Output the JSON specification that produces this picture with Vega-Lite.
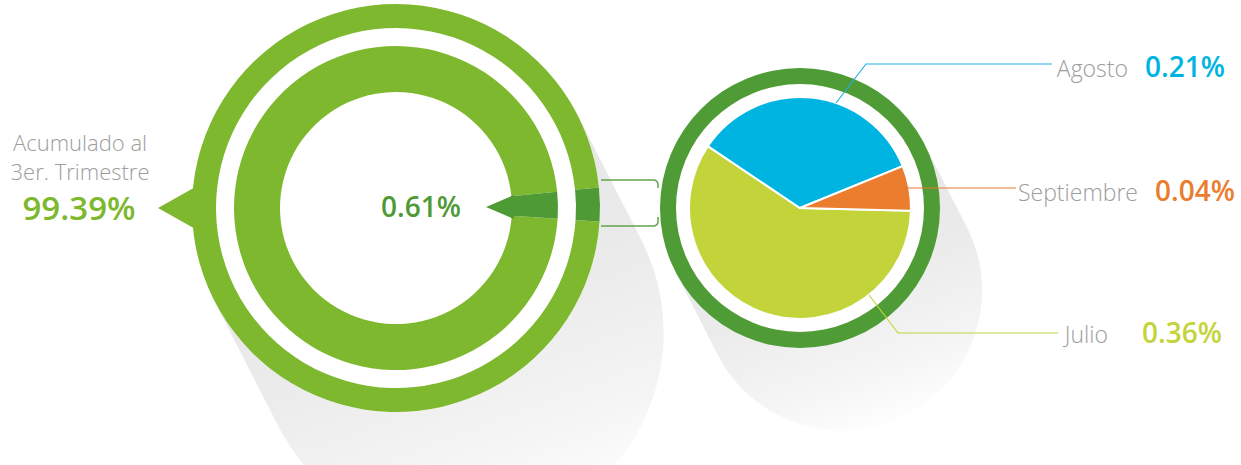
{
  "$schema": "https://vega.github.io/schema/vega-lite/v6.json",
  "width": 1241,
  "height": 465,
  "autosize": {"type": "fit", "contains": "padding"},
  "padding": 0,
  "background": "#ffffff",
  "config": {
    "view": {"stroke": null},
    "axis": {"disable": true},
    "legend": {"disable": true},
    "text": {"font": "Open Sans"}
  },
  "datasets": {
    "graficos": [
      {"grafico": "acumulado", "titulo": "Acumulado al\n3er. Trimestre"},
      {"grafico": "trimestre", "titulo": "3er. Trimestre"}
    ],
    "acumulado": [
      {"grafico": "acumulado", "parte": "Acumulado al 3er. Trimestre", "valor": 99.39, "etiqueta": "99.39%"},
      {"grafico": "acumulado", "parte": "3er. Trimestre", "valor": 0.61, "etiqueta": "0.61%"}
    ],
    "meses": [
      {"grafico": "trimestre", "mes": "Julio", "valor": 0.36, "etiqueta": "0.36%"},
      {"grafico": "trimestre", "mes": "Agosto", "valor": 0.21, "etiqueta": "0.21%"},
      {"grafico": "trimestre", "mes": "Septiembre", "valor": 0.04, "etiqueta": "0.04%"}
    ]
  },
  "resolve": {"scale": {"x": "independent", "y": "independent", "color": "independent", "theta": "independent", "shape": "independent", "size": "independent"}},
  "layer": [
    {
      "data": {"name": "graficos"},
      "mark": {"type": "point", "filled": true, "size": 4, "opacity": 1, "strokeWidth": 0,
        "fill": {"gradient": "linear", "x1": 0.3, "y1": 0, "x2": 0.7, "y2": 1,
          "stops": [{"offset": 0, "color": "#e4e4e4"}, {"offset": 0.5, "color": "#ebebeb"}, {"offset": 0.8, "color": "#f5f5f5"}, {"offset": 1, "color": "#ffffff"}]}},
      "encoding": {
        "x": {"field": "grafico", "type": "nominal", "scale": {"type": "point", "domain": ["acumulado", "trimestre"], "range": [396, 800], "padding": 0}},
        "y": {"field": "grafico", "type": "nominal", "scale": {"type": "point", "domain": ["acumulado", "trimestre"], "range": [208, 208], "padding": 0}},
        "shape": {"field": "grafico", "type": "nominal", "scale": {"domain": ["acumulado", "trimestre"], "range": [
          "M181.8,-92.6 L245.4,32.1 A204,204 0 0 1 -118.2,217.3 L-181.8,92.6 A204,204 0 0 0 181.8,-92.6 Z",
          "M124.7,-63.6 L167.8,21 A140,140 0 0 1 -81.6,148.2 L-124.7,63.6 A140,140 0 0 0 124.7,-63.6 Z"]}}
      }
    },
    {
      "data": {"name": "acumulado"},
      "mark": {"type": "arc", "radius": 204, "radius2": 180},
      "encoding": {
        "x": {"field": "grafico", "type": "nominal", "scale": {"type": "point", "domain": ["acumulado", "trimestre"], "range": [396, 800], "padding": 0}},
        "y": {"field": "grafico", "type": "nominal", "scale": {"type": "point", "domain": ["acumulado", "trimestre"], "range": [208, 208], "padding": 0}},
        "theta": {"field": "valor", "type": "quantitative", "scale": {"type": "pow", "exponent": 0.71, "domain": [0, 100], "range": [1.4696, 7.7528]}},
        "order": {"field": "parte", "type": "ordinal", "sort": "ascending"},
        "color": {"field": "parte", "type": "nominal", "scale": {"domain": ["Acumulado al 3er. Trimestre", "3er. Trimestre"], "range": ["#7db82e", "#4e9a35"]}}
      }
    },
    {
      "data": {"name": "acumulado"},
      "mark": {"type": "arc", "radius": 162, "radius2": 116},
      "encoding": {
        "x": {"field": "grafico", "type": "nominal", "scale": {"type": "point", "domain": ["acumulado", "trimestre"], "range": [396, 800], "padding": 0}},
        "y": {"field": "grafico", "type": "nominal", "scale": {"type": "point", "domain": ["acumulado", "trimestre"], "range": [208, 208], "padding": 0}},
        "theta": {"field": "valor", "type": "quantitative", "scale": {"type": "pow", "exponent": 0.71, "domain": [0, 100], "range": [1.4696, 7.7528]}},
        "order": {"field": "parte", "type": "ordinal", "sort": "ascending"},
        "color": {"field": "parte", "type": "nominal", "scale": {"domain": ["Acumulado al 3er. Trimestre", "3er. Trimestre"], "range": ["#7db82e", "#4e9a35"]}}
      }
    },
    {
      "data": {"name": "acumulado"},
      "mark": {"type": "point", "filled": true, "size": 4, "opacity": 1, "strokeWidth": 0},
      "encoding": {
        "x": {"field": "grafico", "type": "nominal", "scale": {"type": "point", "domain": ["acumulado", "trimestre"], "range": [396, 800], "padding": 0}},
        "y": {"field": "grafico", "type": "nominal", "scale": {"type": "point", "domain": ["acumulado", "trimestre"], "range": [208, 208], "padding": 0}},
        "shape": {"field": "parte", "type": "nominal", "scale": {"domain": ["Acumulado al 3er. Trimestre", "3er. Trimestre"], "range": ["M-238,0 L-190,-27 L-190,27 Z", "M90,-1 L118,-13 L118,11 Z"]}},
        "color": {"field": "parte", "type": "nominal", "scale": {"domain": ["Acumulado al 3er. Trimestre", "3er. Trimestre"], "range": ["#7db82e", "#4e9a35"]}}
      }
    },
    {
      "data": {"name": "graficos"},
      "transform": [{"filter": "datum.grafico == 'trimestre'"}],
      "mark": {"type": "point", "filled": false, "size": 4, "opacity": 1, "strokeWidth": 1.5, "color": "#62a64a",
        "shape": "M-199,-28 L-147,-28 Q-142,-28 -142,-23 L-142,-20 M-199,18 L-147,18 Q-142,18 -142,13 L-142,9"},
      "encoding": {
        "x": {"field": "grafico", "type": "nominal", "scale": {"type": "point", "domain": ["acumulado", "trimestre"], "range": [396, 800], "padding": 0}},
        "y": {"field": "grafico", "type": "nominal", "scale": {"type": "point", "domain": ["acumulado", "trimestre"], "range": [208, 208], "padding": 0}}
      }
    },
    {
      "data": {"name": "graficos"},
      "transform": [{"filter": "datum.grafico == 'trimestre'"}],
      "mark": {"type": "arc", "radius": 140, "radius2": 124, "color": "#4f9b35"},
      "encoding": {
        "x": {"field": "grafico", "type": "nominal", "scale": {"type": "point", "domain": ["acumulado", "trimestre"], "range": [396, 800], "padding": 0}},
        "y": {"field": "grafico", "type": "nominal", "scale": {"type": "point", "domain": ["acumulado", "trimestre"], "range": [208, 208], "padding": 0}}
      }
    },
    {
      "data": {"name": "meses"},
      "mark": {"type": "arc", "radius": 111, "stroke": "#ffffff", "strokeWidth": 2},
      "encoding": {
        "x": {"field": "grafico", "type": "nominal", "scale": {"type": "point", "domain": ["acumulado", "trimestre"], "range": [396, 800], "padding": 0}},
        "y": {"field": "grafico", "type": "nominal", "scale": {"type": "point", "domain": ["acumulado", "trimestre"], "range": [208, 208], "padding": 0}},
        "theta": {"field": "valor", "type": "quantitative", "scale": {"domain": [0, 0.61], "range": [1.1833, 7.4665]}},
        "order": {"field": "mes", "type": "ordinal", "sort": "descending"},
        "color": {"field": "mes", "type": "nominal", "scale": {"domain": ["Agosto", "Septiembre", "Julio"], "range": ["#00b4e2", "#ea7d2e", "#c3d43b"]}}
      }
    },
    {
      "data": {"name": "meses"},
      "mark": {"type": "point", "filled": false, "size": 4, "opacity": 1, "strokeWidth": 1.2},
      "encoding": {
        "x": {"field": "grafico", "type": "nominal", "scale": {"type": "point", "domain": ["acumulado", "trimestre"], "range": [396, 800], "padding": 0}},
        "y": {"field": "grafico", "type": "nominal", "scale": {"type": "point", "domain": ["acumulado", "trimestre"], "range": [208, 208], "padding": 0}},
        "shape": {"field": "mes", "type": "nominal", "scale": {"domain": ["Agosto", "Septiembre", "Julio"], "range": ["M36,-105 L66,-144 L252,-144", "M104,-20 L216,-20", "M69,87 L98,125 L258,125"]}},
        "color": {"field": "mes", "type": "nominal", "scale": {"domain": ["Agosto", "Septiembre", "Julio"], "range": ["#1fb3e0", "#ea7d2e", "#c3d43b"]}}
      }
    },
    {
      "data": {"name": "graficos"},
      "transform": [{"filter": "datum.grafico == 'acumulado'"}],
      "mark": {"type": "text", "align": "center", "baseline": "alphabetic", "fontSize": 22, "fontWeight": 300, "color": "#9d9d9d", "lineHeight": 29, "lineBreak": "\n"},
      "encoding": {
        "x": {"field": "grafico", "type": "nominal", "scale": {"type": "point", "domain": ["acumulado"], "range": [80, 80], "padding": 0}},
        "y": {"field": "grafico", "type": "nominal", "scale": {"type": "point", "domain": ["acumulado"], "range": [151, 151], "padding": 0}},
        "text": {"field": "titulo", "type": "nominal"}
      }
    },
    {
      "data": {"name": "acumulado"},
      "mark": {"type": "text", "align": "center", "baseline": "alphabetic", "fontWeight": 600},
      "encoding": {
        "x": {"field": "parte", "type": "nominal", "scale": {"type": "point", "domain": ["Acumulado al 3er. Trimestre", "3er. Trimestre"], "range": [79, 421], "padding": 0}},
        "y": {"field": "parte", "type": "nominal", "scale": {"type": "point", "domain": ["Acumulado al 3er. Trimestre", "3er. Trimestre"], "range": [220, 217], "padding": 0}},
        "size": {"field": "parte", "type": "nominal", "scale": {"domain": ["Acumulado al 3er. Trimestre", "3er. Trimestre"], "range": [33, 28]}},
        "color": {"field": "parte", "type": "nominal", "scale": {"domain": ["Acumulado al 3er. Trimestre", "3er. Trimestre"], "range": ["#7db82e", "#4e9a35"]}},
        "text": {"field": "etiqueta", "type": "nominal"}
      }
    },
    {
      "data": {"name": "meses"},
      "transform": [{"filter": "datum.mes != 'Septiembre'"}],
      "mark": {"type": "text", "align": "right", "baseline": "alphabetic", "fontSize": 23, "fontWeight": 300, "color": "#9d9d9d"},
      "encoding": {
        "x": {"field": "mes", "type": "nominal", "scale": {"type": "point", "domain": ["Julio", "Agosto"], "range": [1108, 1128], "padding": 0}},
        "y": {"field": "mes", "type": "nominal", "scale": {"type": "point", "domain": ["Agosto", "Julio"], "range": [77, 343], "padding": 0}},
        "text": {"field": "mes", "type": "nominal"}
      }
    },
    {
      "data": {"name": "meses"},
      "transform": [{"filter": "datum.mes == 'Septiembre'"}],
      "mark": {"type": "text", "align": "right", "baseline": "alphabetic", "fontSize": 23, "fontWeight": 300, "color": "#9d9d9d"},
      "encoding": {
        "x": {"field": "mes", "type": "nominal", "scale": {"type": "point", "domain": ["Septiembre"], "range": [1138, 1138], "padding": 0}},
        "y": {"field": "mes", "type": "nominal", "scale": {"type": "point", "domain": ["Septiembre"], "range": [201, 201], "padding": 0}},
        "text": {"field": "mes", "type": "nominal"}
      }
    },
    {
      "data": {"name": "meses"},
      "transform": [{"filter": "datum.mes != 'Septiembre'"}],
      "mark": {"type": "text", "align": "left", "baseline": "alphabetic", "fontSize": 28, "fontWeight": 600},
      "encoding": {
        "x": {"field": "mes", "type": "nominal", "scale": {"type": "point", "domain": ["Julio", "Agosto"], "range": [1142, 1145], "padding": 0}},
        "y": {"field": "mes", "type": "nominal", "scale": {"type": "point", "domain": ["Agosto", "Julio"], "range": [77, 343], "padding": 0}},
        "color": {"field": "mes", "type": "nominal", "scale": {"domain": ["Agosto", "Septiembre", "Julio"], "range": ["#00b4e2", "#ea7d2e", "#c3d43b"]}},
        "text": {"field": "etiqueta", "type": "nominal"}
      }
    },
    {
      "data": {"name": "meses"},
      "transform": [{"filter": "datum.mes == 'Septiembre'"}],
      "mark": {"type": "text", "align": "left", "baseline": "alphabetic", "fontSize": 28, "fontWeight": 600},
      "encoding": {
        "x": {"field": "mes", "type": "nominal", "scale": {"type": "point", "domain": ["Septiembre"], "range": [1155, 1155], "padding": 0}},
        "y": {"field": "mes", "type": "nominal", "scale": {"type": "point", "domain": ["Septiembre"], "range": [201, 201], "padding": 0}},
        "color": {"field": "mes", "type": "nominal", "scale": {"domain": ["Agosto", "Septiembre", "Julio"], "range": ["#00b4e2", "#ea7d2e", "#c3d43b"]}},
        "text": {"field": "etiqueta", "type": "nominal"}
      }
    }
  ]
}
